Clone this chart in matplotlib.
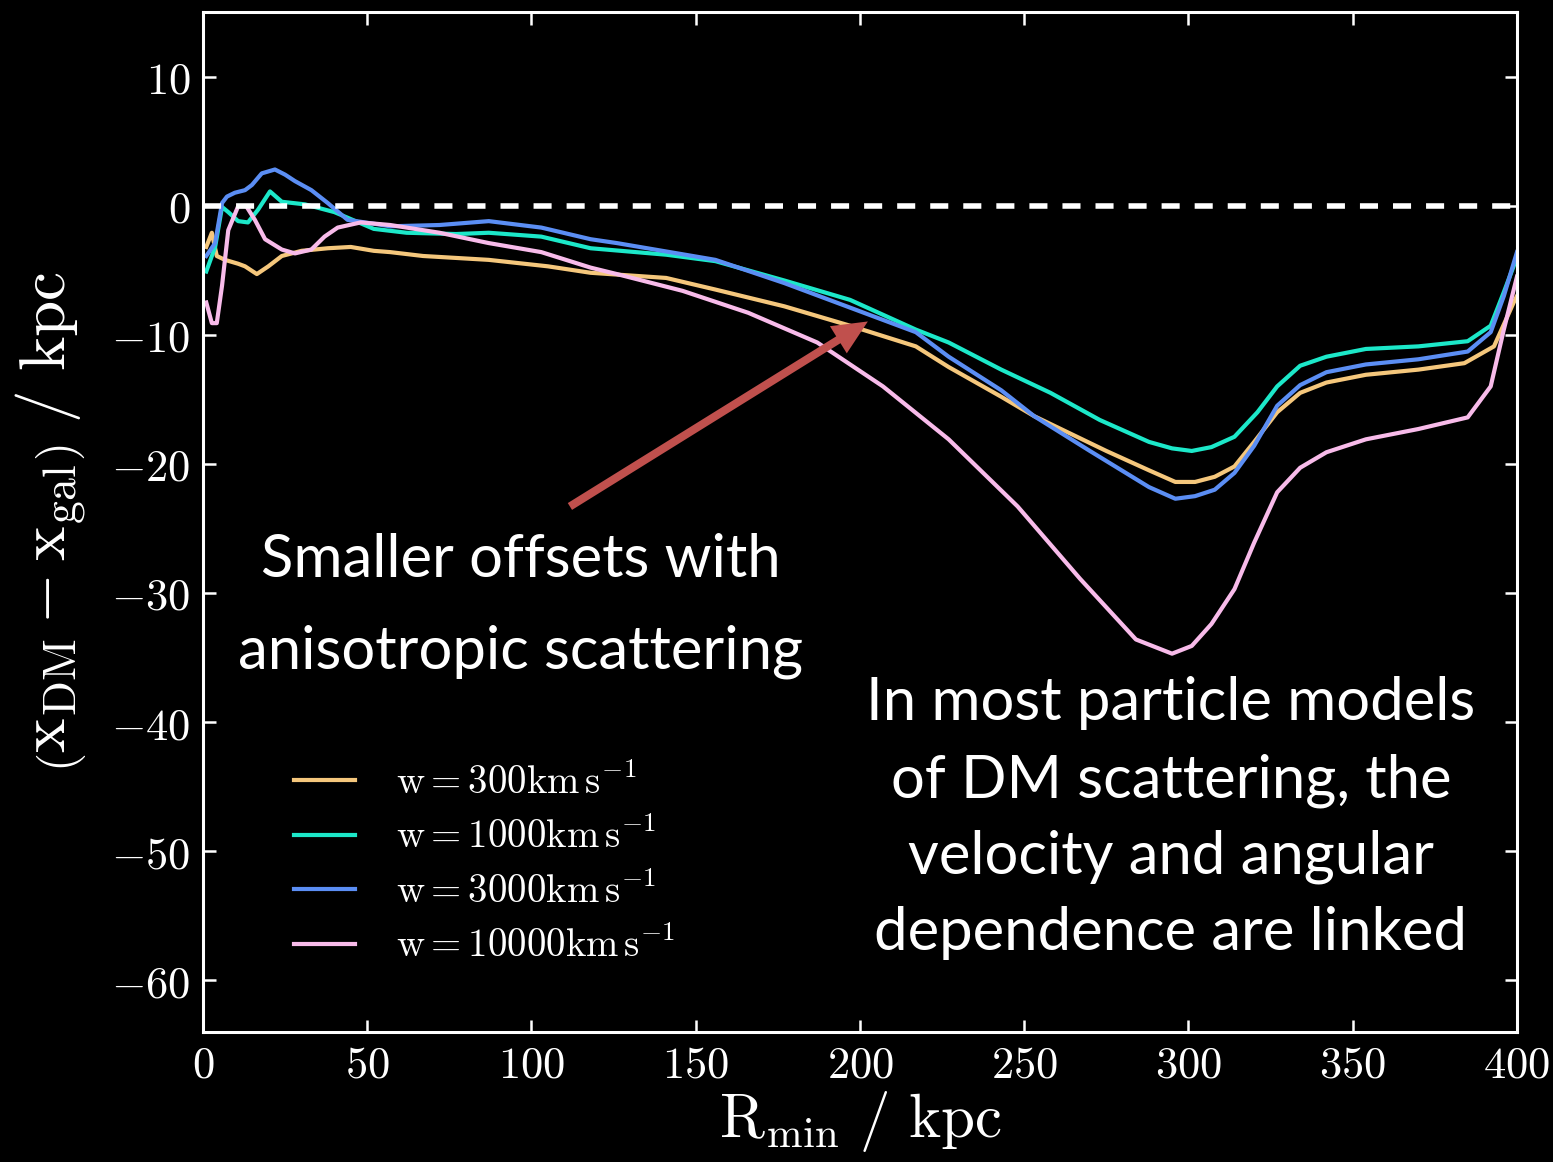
import matplotlib
matplotlib.use("Agg")
import matplotlib.pyplot as plt
from matplotlib.ticker import FuncFormatter

plt.rcParams['mathtext.fontset'] = 'cm'

# offsets (x_DM - x_gal) against R_min for each scattering velocity scale
r_300 = [1, 2.7, 4.2, 6.7, 10.7, 12.8, 16.4, 19.9, 24, 30, 38, 45, 52, 57, 67, 87, 105, 118, 141, 156,
         177, 197, 217, 227, 243, 253, 275, 288, 296, 302, 308, 314, 320, 327, 334, 342, 354, 370, 384, 393,
         399, 400]
off_300 = [-3.2, -2.1, -3.9, -4.2, -4.5, -4.7, -5.3, -4.7, -3.9, -3.5, -3.3, -3.2, -3.5, -3.6, -3.9, -4.2,
           -4.7, -5.2, -5.6, -6.5, -7.8, -9.3, -10.9, -12.5, -14.8, -16.3, -19.0, -20.5, -21.4, -21.4,
           -21.0, -20.2, -18.3, -16.0, -14.5, -13.7, -13.1, -12.7, -12.2, -10.9, -7.5, -7.0]

r_1000 = [1, 3.7, 5.8, 7.7, 10.7, 13.7, 16.8, 20.4, 24, 31, 40, 52, 62, 77, 87, 103, 118, 141, 156, 177,
          197, 217, 227, 243, 258, 273, 288, 295, 301, 307, 314, 321, 327, 334, 342, 354, 370, 385, 392, 396,
          400]
off_1000 = [-5.1, -3.2, -0.1, -0.5, -1.2, -1.3, -0.3, 1.1, 0.3, 0.1, -0.5, -1.8, -2.1, -2.2, -2.1, -2.4,
            -3.3, -3.8, -4.3, -5.8, -7.3, -9.6, -10.6, -12.7, -14.5, -16.6, -18.3, -18.8, -19.0, -18.7,
            -17.9, -16.0, -14.0, -12.4, -11.7, -11.1, -10.9, -10.5, -9.3, -6.7, -4.0]

r_3000 = [1, 3.7, 5.8, 7.3, 9.7, 12.8, 14.9, 17.9, 21.9, 25, 28, 33, 38, 44, 52, 57, 72, 87, 103, 118,
          126, 156, 177, 197, 217, 227, 243, 253, 270, 288, 296, 302, 308, 314, 320, 327, 334, 342, 354, 370,
          385, 392, 396, 400]
off_3000 = [-3.9, -2.9, 0.2, 0.7, 1.0, 1.2, 1.6, 2.5, 2.8, 2.4, 1.9, 1.2, 0.2, -1.1, -1.4, -1.6, -1.5,
            -1.2, -1.7, -2.6, -2.9, -4.2, -6.0, -7.9, -9.8, -11.7, -14.3, -16.3, -19.0, -21.8, -22.7, -22.5,
            -22.0, -20.7, -18.6, -15.5, -13.9, -12.9, -12.3, -11.9, -11.3, -9.8, -7.0, -3.6]

r_10000 = [1, 2.7, 4.2, 5.8, 7.7, 10.7, 13.2, 15.8, 18.9, 24, 28, 33, 37, 41, 48, 57, 72, 87, 103, 118,
           126, 146, 166, 187, 207, 227, 248, 267, 284, 295, 301, 307, 314, 320, 327, 334, 342, 354, 370,
           385, 392, 396, 400]
off_10000 = [-7.5, -9.1, -9.1, -6.2, -1.9, -0.05, -0.05, -1.1, -2.6, -3.4, -3.7, -3.4, -2.4, -1.7, -1.3,
             -1.5, -2.1, -2.9, -3.6, -4.8, -5.3, -6.6, -8.3, -10.6, -14.0, -18.1, -23.3, -28.9, -33.6, -34.7,
             -34.1, -32.4, -29.7, -26.1, -22.2, -20.3, -19.1, -18.1, -17.3, -16.4, -14.0, -9.6, -5.5]

labels = [r'$\mathrm{w}=300\mathrm{km\,s^{-1}}$',
          r'$\mathrm{w}=1000\mathrm{km\,s^{-1}}$',
          r'$\mathrm{w}=3000\mathrm{km\,s^{-1}}$',
          r'$\mathrm{w}=10000\mathrm{km\,s^{-1}}$']
colors = ['#F5C77C', '#1CE8C9', '#5B8EF4', '#F8BBEA']

x_ticks = [0, 50, 100, 150, 200, 250, 300, 350, 400]
y_ticks = [10, 0, -10, -20, -30, -40, -50, -60]

fig = plt.figure(figsize=(15.53, 11.62), dpi=100, facecolor='black')
ax = fig.add_axes([0.1307, 0.1119, 0.8461, 0.8778])
ax.set_facecolor('black')

series = [(r_300, off_300), (r_1000, off_1000), (r_3000, off_3000), (r_10000, off_10000)]
for (r, off), c, lab in zip(series, colors, labels):
    ax.plot(r, off, color=c, lw=3.0, label=lab, solid_joinstyle='round')

zero = ax.axhline(0, color='white', lw=4)
zero.set_dashes([3.25, 2.7])

ax.set_xlim(0, 400)
ax.set_ylim(-64, 15)
ax.set_xticks(x_ticks)
ax.set_yticks(y_ticks)
fmt = FuncFormatter(lambda v, p: r'$%d$' % v)
ax.xaxis.set_major_formatter(fmt)
ax.yaxis.set_major_formatter(fmt)
ax.tick_params(direction='in', top=True, right=True, length=9, width=1.8,
               color='white', labelcolor='white', labelsize=32)
ax.tick_params(axis='y', pad=9)
ax.tick_params(axis='x', pad=8)
for s in ax.spines.values():
    s.set_color('white')
    s.set_linewidth(2.2)

ax.set_xlabel(r'$\mathrm{R_{min}}\ /\ \mathrm{kpc}$', color='white', fontsize=44, labelpad=2)
ax.set_ylabel(r'$\left(\mathrm{x_{DM}} - \mathrm{x_{gal}}\right)\ /\ \mathrm{kpc}$', color='white',
              fontsize=47, labelpad=16)

leg = ax.legend(loc='lower left', bbox_to_anchor=(0.043, 0.031), frameon=False, fontsize=28,
                handlelength=1.55, handletextpad=1.05, labelspacing=0.42)
for t in leg.get_texts():
    t.set_color('white')

ax.annotate('', xy=(202.4, -8.97), xytext=(111.7, -23.3),
            arrowprops=dict(arrowstyle='simple,head_length=1.25,head_width=1.15,tail_width=0.29',
                            mutation_scale=20, color='#C0504D', lw=0, shrinkA=0, shrinkB=0))

note_font = ['Lato', 'DejaVu Sans']
fig.text(0.3355, 0.5034, 'Smaller offsets with', color='white', fontsize=43, ha='center',
         va='baseline', family=note_font)
fig.text(0.3355, 0.4251, 'anisotropic scattering', color='white', fontsize=43, ha='center',
         va='baseline', family=note_font)
for txt, yb in [('In most particle models', 0.3804), ('of DM scattering, the', 0.3141),
                ('velocity and angular', 0.2487), ('dependence are linked', 0.1824)]:
    fig.text(0.754, yb, txt, color='white', fontsize=43, ha='center', va='baseline', family=note_font)

fig.savefig('out.png', dpi=100, facecolor='black')
